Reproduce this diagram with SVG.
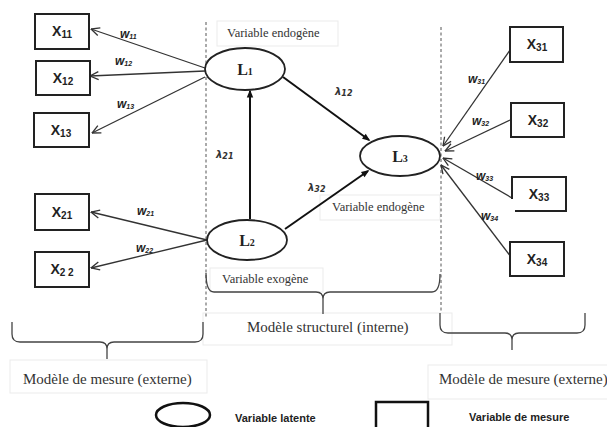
<svg xmlns="http://www.w3.org/2000/svg" width="607" height="427" viewBox="0 0 607 427">
<style>
.mbox{fill:#fff;stroke:#222;stroke-width:2}
.lat{fill:#fff;stroke:#222;stroke-width:1.8}
.xl{font-family:"Liberation Sans",Arial,sans-serif;font-weight:bold;font-size:14px;fill:#222;text-anchor:middle}
.sub{font-size:10px}
.ll{font-family:"Liberation Serif","Times New Roman",serif;font-weight:bold;font-size:16px;fill:#222;text-anchor:middle}
.lsub{font-size:10px}
.meas{stroke:#333;stroke-width:1.3;fill:none;marker-end:url(#open)}
.str{stroke:#111;stroke-width:2;fill:none;marker-end:url(#solid)}
.w{font-family:"Liberation Sans",Arial,sans-serif;font-style:italic;font-weight:bold;font-size:12px;fill:#222}
.ws{font-size:7px}
.lam{font-family:"DejaVu Sans",sans-serif;font-style:italic;font-weight:bold;font-size:10px;fill:#333}
.ls{font-size:8px}
.cap{font-family:"Liberation Serif","Times New Roman",serif;fill:#333}
.frame{fill:none;stroke:#ebebeb;stroke-width:1}
.dash{stroke:#555;stroke-width:1;stroke-dasharray:3 2.5;fill:none}
.brace{stroke:#444;stroke-width:1.3;fill:none}
.leg{font-family:"Liberation Sans",Arial,sans-serif;font-weight:bold;font-size:11px;fill:#222}
</style>
<defs>
<marker id="open" viewBox="0 0 10 10" refX="9.5" refY="5" markerWidth="10" markerHeight="10" markerUnits="userSpaceOnUse" orient="auto">
<path d="M1,1 L9.5,5 L1,9" fill="none" stroke="#333" stroke-width="1.3"/>
</marker>
<marker id="solid" viewBox="0 0 10 10" refX="8" refY="5" markerWidth="9" markerHeight="8" markerUnits="userSpaceOnUse" orient="auto">
<path d="M0,1 L10,5 L0,9 z" fill="#111"/>
</marker>
</defs>

<!-- faint text frames -->
<g id="frames">
<rect class="frame" x="217" y="21" width="121" height="25"/>
<rect class="frame" x="320" y="195" width="120" height="25"/>
<rect class="frame" x="210" y="268" width="113" height="24"/>
<rect class="frame" x="203" y="313" width="249" height="32"/>
<rect class="frame" x="10" y="360" width="197" height="33"/>
<rect class="frame" x="428" y="365" width="185" height="34"/>
</g>

<!-- zone separators -->
<g id="separators">
<line class="dash" x1="206" y1="22" x2="206" y2="318"/>
<line class="dash" x1="441" y1="27" x2="441" y2="312"/>
</g>

<!-- braces -->
<g id="braces">
<path class="brace" d="M12,322 L12,334 Q12,342 20,342 L100,342 Q107,342 107,349 L107,359 M107,349 Q107,342 114,342 L195,342 Q203,342 203,334 L203,322"/>
<path class="brace" d="M206,273 Q206,292 214,292 L316,292 Q323,292 323,299 L323,314 M323,299 Q323,292 330,292 L432,292 Q440,292 440,274"/>
<path class="brace" d="M440,313 L440,325 Q440,333 448,333 L505,333 Q512,333 512,340 L512,350 M512,340 Q512,333 519,333 L577,333 Q585,333 585,325 L585,313"/>
</g>

<!-- connectors -->
<g id="connectors">
<line class="meas" x1="205" y1="68" x2="91" y2="29"/>
<line class="meas" x1="205" y1="71" x2="90" y2="76"/>
<line class="meas" x1="205" y1="77" x2="92" y2="133"/>
<line class="meas" x1="207" y1="240" x2="91" y2="212"/>
<line class="meas" x1="207" y1="240" x2="91" y2="268"/>
<line class="meas" x1="510" y1="50" x2="443" y2="146"/>
<line class="meas" x1="510" y1="120" x2="445" y2="151"/>
<line class="meas" x1="512" y1="198" x2="443" y2="158"/>
<line class="meas" x1="511" y1="257" x2="441" y2="165"/>
<line class="str" x1="250" y1="219" x2="250" y2="91"/>
<line class="str" x1="283" y1="77" x2="369" y2="140"/>
<line class="str" x1="285" y1="229" x2="368" y2="171"/>
</g>

<!-- connector labels -->
<g id="weights">
<text class="w" x="120" y="38">w<tspan class="ws" dy="1">11</tspan></text>
<text class="w" x="115" y="65">w<tspan class="ws" dy="1">12</tspan></text>
<text class="w" x="117" y="108">w<tspan class="ws" dy="1">13</tspan></text>
<text class="w" x="137" y="215">w<tspan class="ws" dy="1">21</tspan></text>
<text class="w" x="136" y="252">w<tspan class="ws" dy="1">22</tspan></text>
<text class="w" x="468" y="83">w<tspan class="ws" dy="1">31</tspan></text>
<text class="w" x="472" y="125">w<tspan class="ws" dy="1">32</tspan></text>
<text class="w" x="476" y="180">w<tspan class="ws" dy="1">33</tspan></text>
<text class="w" x="481" y="220">w<tspan class="ws" dy="1">34</tspan></text>
<text class="lam" x="335" y="95">λ<tspan class="ls" dy="1">12</tspan></text>
<text class="lam" x="216" y="158">λ<tspan class="ls" dy="1">21</tspan></text>
<text class="lam" x="308" y="191">λ<tspan class="ls" dy="1">32</tspan></text>
</g>

<!-- measured variables -->
<g id="X11"><rect class="mbox" x="35" y="14" width="54" height="35"/><text class="xl" x="62" y="36">X<tspan class="sub" dy="1.5">11</tspan></text></g>
<g id="X12"><rect class="mbox" x="36" y="61" width="54" height="34"/><text class="xl" x="63" y="83">X<tspan class="sub" dy="1.5">12</tspan></text></g>
<g id="X13"><rect class="mbox" x="34" y="113" width="55" height="34"/><text class="xl" x="61" y="135">X<tspan class="sub" dy="1.5">13</tspan></text></g>
<g id="X21"><rect class="mbox" x="35" y="194" width="54" height="36"/><text class="xl" x="62" y="217">X<tspan class="sub" dy="1.5">21</tspan></text></g>
<g id="X22"><rect class="mbox" x="35" y="252" width="54" height="35"/><text class="xl" x="62" y="274">X<tspan class="sub" dy="1.5">2 2</tspan></text></g>
<g id="X31"><rect class="mbox" x="510" y="27" width="53" height="35"/><text class="xl" x="537" y="49">X<tspan class="sub" dy="1.5">31</tspan></text></g>
<g id="X32"><rect class="mbox" x="511" y="103" width="53" height="34"/><text class="xl" x="538" y="125">X<tspan class="sub" dy="1.5">32</tspan></text></g>
<g id="X33"><path class="mbox" fill="none" d="M515,211 L566,211 L566,177 L512,177 L512,199"/><text class="xl" x="539" y="199">X<tspan class="sub" dy="1.5">33</tspan></text></g>
<g id="X34"><rect class="mbox" x="510" y="242" width="54" height="34"/><text class="xl" x="537" y="264">X<tspan class="sub" dy="1.5">34</tspan></text></g>

<!-- latent variables -->
<g id="L1"><ellipse class="lat" cx="245" cy="69" rx="40" ry="21"/><text class="ll" x="245" y="75">L<tspan class="lsub">1</tspan></text></g>
<g id="L2"><ellipse class="lat" cx="247" cy="240" rx="40" ry="20"/><text class="ll" x="247" y="246">L<tspan class="lsub">2</tspan></text></g>
<g id="L3"><ellipse class="lat" cx="400" cy="156" rx="40" ry="20"/><text class="ll" x="400" y="162">L<tspan class="lsub">3</tspan></text></g>

<!-- captions -->
<g id="captions">
<text class="cap" x="227" y="37" font-size="12.5">Variable endogène</text>
<text class="cap" x="332" y="211" font-size="12.5">Variable endogène</text>
<text class="cap" x="222" y="283" font-size="12.5">Variable exogène</text>
<text class="cap" x="247" y="332" font-size="15">Modèle structurel (interne)</text>
<text class="cap" x="23" y="384" font-size="15">Modèle de mesure (externe)</text>
<text class="cap" x="439" y="384" font-size="15">Modèle de mesure (externe)</text>
</g>

<!-- legend -->
<g id="legend">
<ellipse cx="183" cy="415" rx="27" ry="12" fill="none" stroke="#111" stroke-width="2.5"/>
<text class="leg" x="235" y="422">Variable latente</text>
<rect x="376" y="402" width="52" height="30" fill="none" stroke="#111" stroke-width="2.5"/>
<text class="leg" x="469" y="421">Variable de mesure</text>
</g>
</svg>
